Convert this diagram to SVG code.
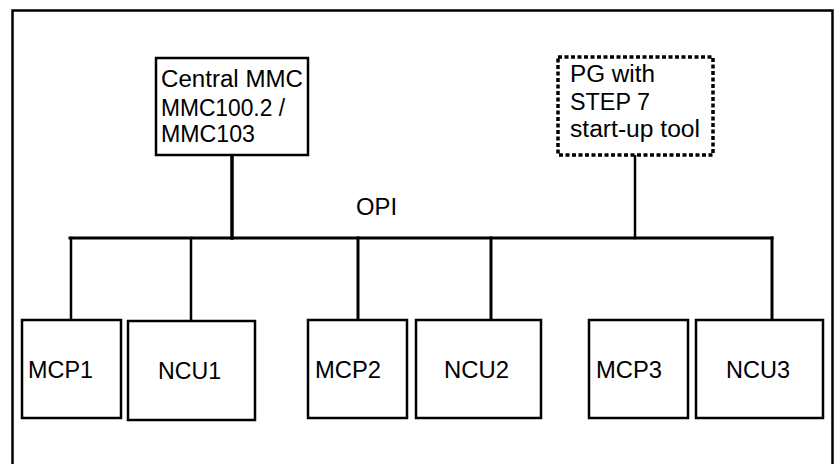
<svg xmlns="http://www.w3.org/2000/svg" width="840" height="464" viewBox="0 0 840 464">
<style>
.box{fill:#fff;stroke:#000;stroke-width:2.5}
.dot{fill:#fff;stroke:#000;stroke-width:3.5;stroke-dasharray:4 2.5}
.t{font-family:"Liberation Sans",Arial,sans-serif;font-size:23.5px;fill:#000}
.w{fill:none;stroke:#000;stroke-linecap:square}
</style>
<rect width="840" height="464" fill="#fff"/>
<g id="frame"><path d="M12.5 470 V10.5 H832.5 V470" fill="none" stroke="#000" stroke-width="2.5"/></g>
<g id="connectors">
<path class="w" stroke-width="3" d="M70 238 H772"/>
<path class="w" stroke-width="3.5" d="M232 156 V238"/>
<path class="w" stroke-width="2.5" d="M635 156 V238"/>
<path class="w" stroke-width="2.5" d="M71 238 V320"/>
<path class="w" stroke-width="2.5" d="M191 238 V320"/>
<path class="w" stroke-width="3" d="M358 238 V320"/>
<path class="w" stroke-width="3" d="M491 238 V320"/>
<path class="w" stroke-width="3" d="M772 238 V320"/>
</g>
<g id="central-mmc"><rect class="box" x="156" y="58" width="152" height="97"/>
<text class="t" x="161" y="87" textLength="142" lengthAdjust="spacingAndGlyphs">Central MMC</text>
<text class="t" x="161" y="116" textLength="124" lengthAdjust="spacingAndGlyphs">MMC100.2 /</text>
<text class="t" x="161" y="142" textLength="94" lengthAdjust="spacingAndGlyphs">MMC103</text></g>
<g id="pg"><rect class="dot" x="558" y="57" width="155" height="98"/>
<text class="t" x="570" y="82" textLength="85" lengthAdjust="spacingAndGlyphs">PG with</text>
<text class="t" x="570" y="110" textLength="80" lengthAdjust="spacingAndGlyphs">STEP 7</text>
<text class="t" x="570" y="137" textLength="130" lengthAdjust="spacingAndGlyphs">start-up tool</text></g>
<g id="opi"><text class="t" x="356" y="215" textLength="41" lengthAdjust="spacingAndGlyphs">OPI</text></g>
<g id="mcp1"><rect class="box" x="22" y="320" width="99" height="98"/><text class="t" x="28" y="378" textLength="65" lengthAdjust="spacingAndGlyphs">MCP1</text></g>
<g id="ncu1"><rect class="box" x="128" y="321" width="127" height="99"/><text class="t" x="158" y="379" textLength="63" lengthAdjust="spacingAndGlyphs">NCU1</text></g>
<g id="mcp2"><rect class="box" x="308" y="320" width="99" height="98"/><text class="t" x="315" y="378" textLength="66" lengthAdjust="spacingAndGlyphs">MCP2</text></g>
<g id="ncu2"><rect class="box" x="416" y="320" width="125" height="98"/><text class="t" x="444" y="378" textLength="65" lengthAdjust="spacingAndGlyphs">NCU2</text></g>
<g id="mcp3"><rect class="box" x="589" y="320" width="99" height="98"/><text class="t" x="596" y="378" textLength="66" lengthAdjust="spacingAndGlyphs">MCP3</text></g>
<g id="ncu3"><rect class="box" x="696" y="320" width="127" height="98"/><text class="t" x="726" y="378" textLength="64" lengthAdjust="spacingAndGlyphs">NCU3</text></g>
</svg>
